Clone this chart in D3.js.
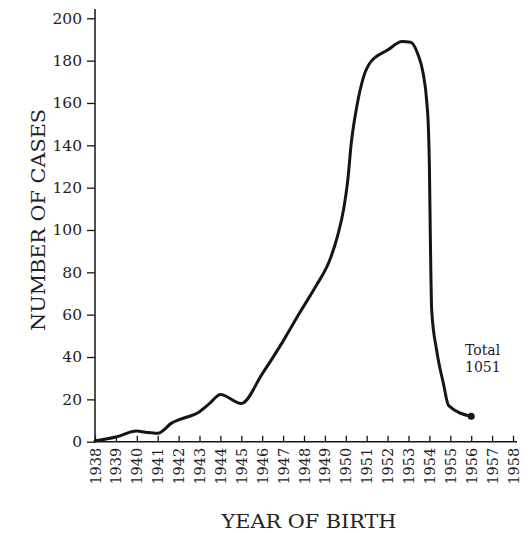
<!DOCTYPE html>
<html>
<head>
<meta charset="utf-8">
<script src="https://cdn.jsdelivr.net/npm/d3@7"></script>
<style>
  html, body { margin: 0; padding: 0; background: #fff; }
  svg { display: block; }
  text { font-family: "DejaVu Serif", "Liberation Serif", serif; fill: #222; }
</style>
</head>
<body>
<svg id="chart" width="531" height="533"></svg>
<script>
// Points (year of birth, number of cases)
const curveYears = [1938, 1939, 1940, 1940.4, 1941, 1941.7, 1942, 1943, 1943.5, 1944, 1945,
  1946, 1947, 1947.8, 1948.6, 1949.2, 1949.6, 1949.9, 1950.1, 1950.25, 1950.52, 1950.84,
  1951.16, 1952, 1952.7, 1953.1, 1953.45, 1953.7, 1953.87, 1953.96, 1954.0, 1954.04, 1954.11,
  1954.35, 1954.67, 1954.92, 1956];
const curveCases = [0.3, 2.2, 5, 4.5, 4, 9, 10.3, 14.2, 18.2, 22.3, 18.1,
  32, 47.5, 61, 74, 85, 97, 110, 124, 140, 158, 172,
  179, 185, 189, 188.7, 183, 174, 161, 146, 130, 100, 62,
  43, 27.5, 17, 12];

const yTicks = [0, 20, 40, 60, 80, 100, 120, 140, 160, 180, 200];
const xTicks = [1938, 1939, 1940, 1941, 1942, 1943, 1944, 1945, 1946, 1947, 1948,
  1949, 1950, 1951, 1952, 1953, 1954, 1955, 1956, 1957, 1958];

const yTitle = "NUMBER OF CASES";
const xTitle = "YEAR OF BIRTH";
const noteLines = ["Total", "1051"];

const svg = d3.select("#chart");
const x = d3.scaleLinear().domain([1938, 1958]).range([95, 513]);
const y = d3.scaleLinear().domain([0, 200]).range([441.7, 18.3]);
const ink = "#151515";

// Y axis
const gy = svg.append("g").attr("transform", "translate(95,0)")
  .call(d3.axisLeft(y).tickValues(yTicks).tickSize(8).tickSizeOuter(0).tickPadding(5));
gy.select(".domain").remove();
gy.selectAll(".tick line").attr("stroke", ink).attr("stroke-width", 1.3);
gy.selectAll(".tick text").attr("font-size", 15.5)
  .style("font-family", "'DejaVu Serif', serif").attr("fill", "#222");
svg.append("line").attr("x1", 95).attr("x2", 95).attr("y1", y(0)).attr("y2", 9)
  .attr("stroke", ink).attr("stroke-width", 1.5);

// X axis
const gx = svg.append("g").attr("transform", `translate(0,${y(0)})`)
  .call(d3.axisBottom(x).tickValues(xTicks).tickFormat(d3.format("d"))
    .tickSize(-6).tickSizeOuter(0));
gx.select(".domain").remove();
gx.selectAll(".tick line").attr("stroke", ink).attr("stroke-width", 1.3);
gx.selectAll(".tick text")
  .attr("transform", "rotate(-90)")
  .attr("x", -6).attr("y", 0).attr("dy", "0.35em")
  .attr("text-anchor", "end")
  .attr("font-size", 14.5)
  .style("font-family", "'DejaVu Serif', serif").attr("fill", "#222");
svg.append("line").attr("x1", 95).attr("x2", 517).attr("y1", y(0)).attr("y2", y(0))
  .attr("stroke", ink).attr("stroke-width", 1.5);

// Curve
const pts = curveYears.map((d, i) => [d, curveCases[i]]);
const line = d3.line().x(d => x(d[0])).y(d => y(d[1])).curve(d3.curveMonotoneX);
svg.append("path").datum(pts).attr("d", line)
  .attr("fill", "none").attr("stroke", ink).attr("stroke-width", 3)
  .attr("stroke-linejoin", "round").attr("stroke-linecap", "round");
const last = pts[pts.length - 1];
svg.append("circle").attr("cx", x(last[0])).attr("cy", y(last[1])).attr("r", 3.5).attr("fill", ink);

// Titles
svg.append("text").attr("transform", "translate(45,220) rotate(-90)")
  .attr("text-anchor", "middle").attr("font-size", 19)
  .attr("textLength", 222).attr("lengthAdjust", "spacingAndGlyphs")
  .text(yTitle);
svg.append("text").attr("x", 309).attr("y", 528)
  .attr("text-anchor", "middle").attr("font-size", 19)
  .attr("textLength", 175).attr("lengthAdjust", "spacingAndGlyphs")
  .text(xTitle);

// Note
svg.append("g").selectAll("text").data(noteLines).join("text")
  .attr("x", 465).attr("y", (d, i) => 355 + i * 17)
  .attr("font-size", 14).text(d => d);
</script>
</body>
</html>
